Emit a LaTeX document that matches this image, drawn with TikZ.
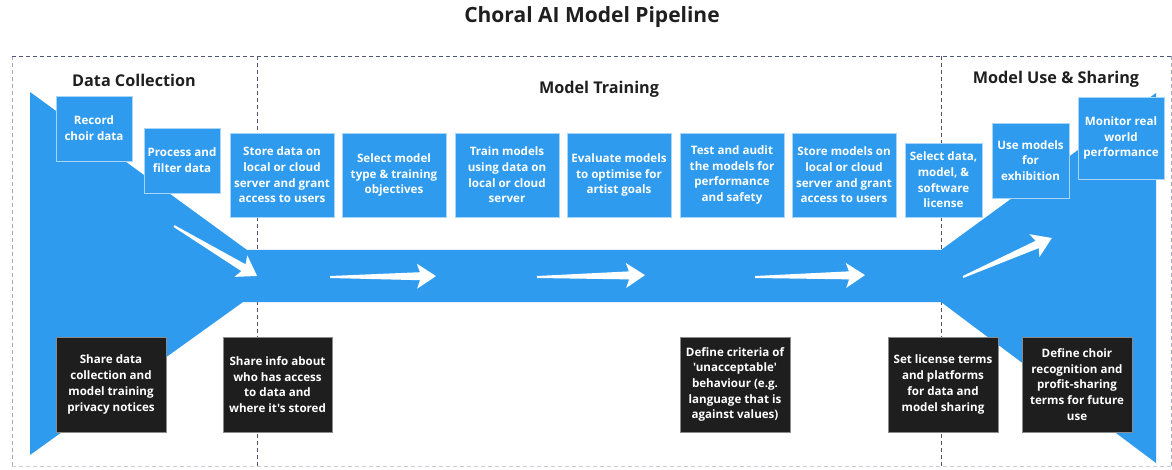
\documentclass[tikz,border=0pt]{standalone}
\usepackage{fontspec}
\setmainfont{Open Sans}[Ligatures=TeXOff]
\definecolor{pipeblue}{HTML}{2E9BEE}
\definecolor{boxedge}{HTML}{A9D5F8}
\definecolor{boxdark}{HTML}{1E1E1E}
\definecolor{darkedge}{HTML}{8A8A8A}
\definecolor{dashdark}{HTML}{4F5478}
\definecolor{dashlight}{HTML}{A9ABBC}
\tikzset{
  bluebox/.style={fill=pipeblue, draw=boxedge, line width=0.8pt, text=white,
    font=\bfseries\fontsize{11.6}{15.7}\selectfont, align=center, inner sep=0pt},
  darkbox/.style={fill=boxdark, draw=darkedge, line width=0.8pt, text=white,
    font=\bfseries\fontsize{11.6}{15.7}\selectfont, align=center, inner sep=0pt,
    minimum height=95pt},
  sectitle/.style={font=\bfseries\fontsize{16.2}{19}\selectfont, text=black!88},
  sectline/.style={dash pattern=on 4pt off 3pt, line width=0.8pt},
  pics/wedge/.style={code={
    \fill[white] (0,-1) -- (#1-16,-4) -- (#1-19,-12.5) -- (#1,0)
      -- (#1-19,12.5) -- (#1-16,4) -- (0,1) -- cycle;
  }}
}
\begin{document}
\begin{tikzpicture}[x=1pt,y=-1pt]
\useasboundingbox (0,0) rectangle (1172,470);
% section frames
\draw[sectline, dashlight] (12,56) -- (12,466);
\draw[sectline, dashlight] (1171,56) -- (1171,466);
\draw[sectline, dashlight!60] (12,466) -- (1171,466);
\draw[sectline, dashdark] (12,56) -- (1171,56);
\draw[sectline, dashdark] (257,56) -- (257,466);
\draw[sectline, dashdark] (941,56) -- (941,466);
% pipeline shape
\fill[pipeblue] (30,92) -- (247,250) -- (941,250) -- (1156,93) -- (1156,463)
  -- (941,302) -- (243,302) -- (30,455) -- cycle;
% arrows
\pic[rotate=-31] at (174,226) {wedge=97};
\pic[rotate=0.5] at (330,277) {wedge=106};
\pic[rotate=1] at (537,277) {wedge=108};
\pic[rotate=1] at (755,277) {wedge=110};
\pic[rotate=23.7] at (963,277) {wedge=97};
% titles
\node[font=\bfseries\fontsize{21}{25}\selectfont, text=black!88] (title) at (592,17) {Choral AI Model Pipeline};
\node[sectitle] (tcol) at (134,80) {Data Collection};
\node[sectitle] (ttrain) at (599,89) {Model Training};
\node[sectitle] (tuse) at (1056,79) {Model Use \& Sharing};
% top boxes
\node[bluebox, minimum width=76pt, minimum height=65pt] (rec) at (94,128.5) {Record\\choir data};
\node[bluebox, minimum width=76pt, minimum height=65pt] (proc) at (182,160.5) {Process and\\filter data};
\node[bluebox, minimum width=104pt, minimum height=84pt] (storedata) at (282,175) {Store data on\\local or cloud\\server and grant\\access to users};
\node[bluebox, minimum width=104pt, minimum height=84pt] (seltype) at (394,175) {Select model\\type \& training\\objectives};
\node[bluebox, minimum width=104pt, minimum height=84pt] (train) at (507,175) {Train models\\using data on\\local or cloud\\server};
\node[bluebox, minimum width=104pt, minimum height=84pt] (eval) at (619,175) {Evaluate models\\to optimise for\\artist goals};
\node[bluebox, minimum width=104pt, minimum height=84pt] (test) at (732,175) {Test and audit\\the models for\\performance\\and safety};
\node[bluebox, minimum width=104pt, minimum height=84pt] (storemod) at (844,175) {Store models on\\local or cloud\\server and grant\\access to users};
\node[bluebox, minimum width=77pt, minimum height=74pt] (lic) at (943.5,180) {Select data,\\model, \&\\software\\license};
\node[bluebox, minimum width=77pt, minimum height=75pt] (use) at (1030.5,160.5) {Use models\\for\\exhibition};
\node[bluebox, minimum width=86pt, minimum height=82pt] (mon) at (1121,138) {Monitor real\\world\\performance};
% bottom boxes
\node[darkbox, minimum width=110pt] (privacy) at (111,384.5) {Share data\\collection and\\model training\\privacy notices};
\node[darkbox, minimum width=109pt] (access) at (277.5,384.5) {Share info about\\who has access\\to data and\\where it's stored};
\node[darkbox, minimum width=110pt] (criteria) at (735,384.5) {Define criteria of\\'unacceptable'\\behaviour (e.g.\\language that is\\against values)};
\node[darkbox, minimum width=110pt] (terms) at (943,384.5) {Set license terms\\and platforms\\for data and\\model sharing};
\node[darkbox, minimum width=110pt] (profit) at (1077,384.5) {Define choir\\recognition and\\profit-sharing\\terms for future\\use};
\end{tikzpicture}
\end{document}
